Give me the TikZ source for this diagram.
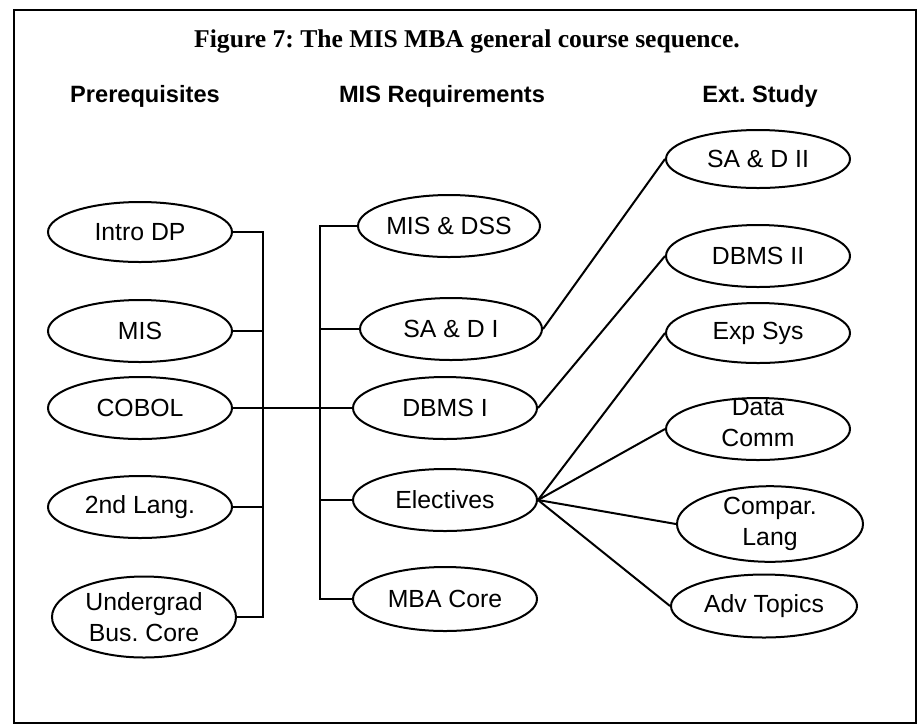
\documentclass[tikz,border=0pt]{standalone}
\usepackage{fontspec}
\setmainfont{Liberation Sans}
\newfontfamily\capfont{Liberation Serif}
\usetikzlibrary{shapes.geometric}
\frenchspacing

\begin{document}
\begin{tikzpicture}[x=0.5pt, y=-0.5pt, line width=1pt, font=\fontsize{12.4}{15.5}\selectfont,
  course/.style={draw, ellipse, inner sep=0pt, minimum width=92pt, minimum height=31pt, align=center},
  head/.style={font=\fontsize{11.8}{14}\selectfont\bfseries, anchor=base}]
\useasboundingbox (0,0) rectangle (921,725);
\draw[line width=1.3pt] (14,10) rectangle (916,723);
\node[font=\capfont\fontsize{12.8}{15}\selectfont\bfseries, anchor=base] (title) at (467,47) {Figure 7: The MIS MBA general course sequence.};
\node[head] (pre) at (145,102) {Prerequisites};
\node[head] (req) at (442,102) {MIS Requirements};
\node[head] (ext) at (760,102) {Ext. Study};

\node[course, minimum height=30pt] (intro) at (140,232) {Intro DP};
\node[course] (mis) at (140,331) {MIS};
\node[course] (cobol) at (140,408) {COBOL};
\node[course] (lang) at (140,507) {2nd Lang.};
\node[course, minimum height=40.5pt] (ugrad) at (144,617) {Undergrad\\Bus. Core};

\node[course, minimum width=91pt] (misdss) at (449,226) {MIS \& DSS};
\node[course, minimum width=91pt] (sad1) at (451,329) {SA \& D I};
\node[course] (dbms1) at (445,408) {DBMS I};
\node[course] (elect) at (445,500) {Electives};
\node[course, minimum height=32pt] (mba) at (445,599) {MBA Core};

\node[course, minimum height=29pt] (sad2) at (758,159) {SA \& D II};
\node[course] (dbms2) at (758,256) {DBMS II};
\node[course, minimum height=30pt] (exp) at (758,333) {Exp Sys};
\node[course, label={[align=center, yshift=3pt]center:{Data\\Comm}}] (comm) at (758,429) {};
\node[course, minimum width=93pt, minimum height=37.5pt] (compar) at (770,524) {Compar.\\Lang};
\node[course, minimum width=93pt, minimum height=31.5pt] (adv) at (764,606) {Adv Topics};

\coordinate (lbus) at (263,0);
\coordinate (rbus) at (320,0);
\draw (intro.east) -- (intro.east -| lbus) -- (ugrad.east -| lbus) -- (ugrad.east);
\foreach \c in {mis,lang}
  \draw (\c.east) -- (\c.east -| lbus);
\draw (misdss.west) -- (misdss.west -| rbus) -- (mba.west -| rbus) -- (mba.west);
\foreach \c in {sad1,elect}
  \draw (\c.west) -- (\c.west -| rbus);
\draw (cobol.east) -- (dbms1.west);
\draw (sad1.east) -- (sad2.west);
\draw (dbms1.east) -- (dbms2.west);
\foreach \c in {exp,comm,compar,adv}
  \draw (elect.east) -- (\c.west);
\end{tikzpicture}
\end{document}
